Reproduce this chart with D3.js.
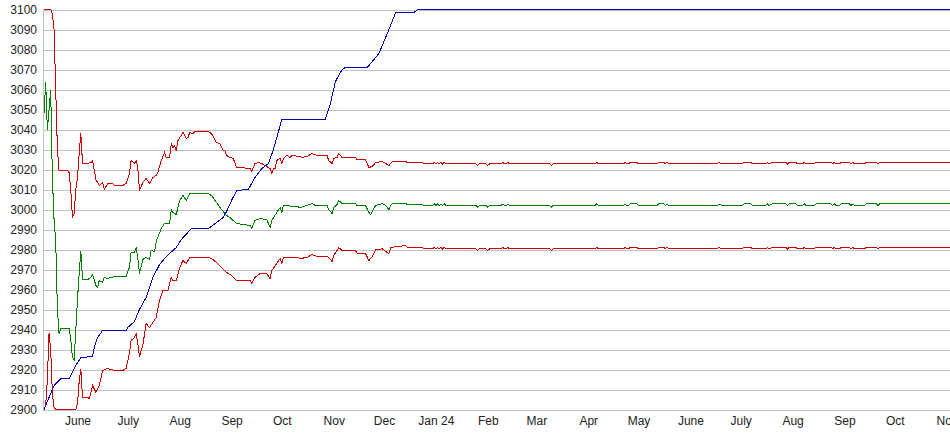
<!DOCTYPE html>
<html>
<head>
<meta charset="utf-8">
<script src="https://cdn.jsdelivr.net/npm/d3@7"></script>
<style>
  body { margin: 0; background: #fff; }
  text { font-family: "Liberation Sans", Arial, sans-serif; font-size: 12px; fill: #222; }
</style>
</head>
<body>
<div id="chart"></div>
<script>
// rating chart data (date, value)
var blueLine = [["2023-05-12",2900],["2023-05-15",2906],["2023-05-18",2912],["2023-05-21",2914.5],["2023-05-22",2915.5],["2023-05-27",2915.5],["2023-05-29",2918.5],["2023-05-31",2922],["2023-06-03",2926],["2023-06-10",2926.5],["2023-06-11",2931],["2023-06-13",2936],["2023-06-16",2939.5],["2023-06-30",2939.5],["2023-07-01",2941],["2023-07-05",2944],["2023-07-08",2950],["2023-07-12",2956],["2023-07-14",2961],["2023-07-16",2966],["2023-07-20",2972.5],["2023-07-23",2975.5],["2023-07-26",2978],["2023-07-30",2981],["2023-08-02",2985],["2023-08-07",2989.5],["2023-08-08",2990.5],["2023-08-18",2990.5],["2023-08-19",2991],["2023-08-23",2993.5],["2023-08-27",2996],["2023-08-29",2999],["2023-09-01",3004.5],["2023-09-04",3009.5],["2023-09-11",3010],["2023-09-15",3016],["2023-09-19",3020.5],["2023-09-23",3023],["2023-09-26",3030],["2023-10-01",3045],["2023-10-27",3045],["2023-10-30",3053],["2023-11-02",3064],["2023-11-06",3070],["2023-11-08",3071],["2023-11-21",3071],["2023-11-25",3075],["2023-11-28",3078],["2023-12-03",3088],["2023-12-08",3098.5],["2023-12-19",3098.5],["2023-12-21",3100],["2024-11-03",3100]];

var upperBand = [["2023-05-12",3100],["2023-05-16",3100],["2023-05-17",3098],["2023-05-18",3090],["2023-05-19",3060],["2023-05-20",3030],["2023-05-21",3019.5],["2023-05-26",3019.5],["2023-05-27",3018.5],["2023-05-28",3009.5],["2023-05-29",2996],["2023-05-30",2998],["2023-05-31",3010],["2023-06-01",3016],["2023-06-02",3028],["2023-06-03",3038],["2023-06-04",3023],["2023-06-07",3023],["2023-06-09",3023.5],["2023-06-10",3024.5],["2023-06-12",3015],["2023-06-13",3013.5],["2023-06-14",3012],["2023-06-16",3013.5],["2023-06-17",3010],["2023-06-19",3013],["2023-06-22",3013],["2023-06-23",3012],["2023-06-28",3012],["2023-06-30",3013],["2023-07-02",3018],["2023-07-03",3024.5],["2023-07-05",3023],["2023-07-06",3024.5],["2023-07-07",3021],["2023-07-08",3009.5],["2023-07-10",3013.5],["2023-07-12",3015.5],["2023-07-14",3013],["2023-07-16",3016],["2023-07-18",3017],["2023-07-19",3018.5],["2023-07-21",3024.5],["2023-07-23",3028.5],["2023-07-24",3026],["2023-07-26",3026],["2023-07-27",3033],["2023-07-28",3031],["2023-07-29",3032],["2023-07-30",3029.5],["2023-07-31",3034.5],["2023-08-03",3038.5],["2023-08-05",3035.5],["2023-08-06",3036],["2023-08-07",3038.5],["2023-08-09",3038],["2023-08-10",3039],["2023-08-18",3039],["2023-08-20",3038],["2023-08-23",3033.5],["2023-08-25",3033],["2023-08-27",3029.5],["2023-08-28",3029.5],["2023-08-29",3027],["2023-08-31",3026],["2023-09-02",3025.5],["2023-09-04",3021],["2023-09-06",3021],["2023-09-12",3020.5],["2023-09-13",3019],["2023-09-15",3023],["2023-09-17",3023.5],["2023-09-19",3023],["2023-09-21",3022],["2023-09-24",3020.5],["2023-09-25",3018],["2023-09-26",3020.5],["2023-09-27",3020.5],["2023-09-28",3024.5],["2023-09-30",3025.5],["2023-10-01",3023],["2023-10-02",3025.5],["2023-10-04",3027],["2023-10-06",3026],["2023-10-07",3027],["2023-10-12",3026.5],["2023-10-13",3026],["2023-10-16",3026.5],["2023-10-19",3028],["2023-10-22",3027],["2023-10-28",3027],["2023-10-29",3024.5],["2023-10-31",3023],["2023-11-01",3025.5],["2023-11-03",3026],["2023-11-04",3028],["2023-11-06",3026],["2023-11-14",3026],["2023-11-15",3025],["2023-11-20",3025],["2023-11-22",3021],["2023-11-24",3021.5],["2023-11-26",3023.5],["2023-11-30",3024],["2023-12-02",3023],["2023-12-04",3022],["2023-12-06",3024],["2023-12-14",3024],["2023-12-15",3023.5],["2023-12-24",3023.5],["2023-12-25",3022.8],["2023-12-30",3022.8],["2023-12-31",3023.6],["2024-01-01",3022.8],["2024-01-02",3023.6],["2024-01-03",3022.8],["2024-01-04",3023.6],["2024-01-05",3022.8],["2024-01-06",3023.6],["2024-01-07",3022.8],
  ["2024-01-25",3022.8],["2024-01-26",3022],["2024-01-27",3022.8],["2024-01-31",3022.8],["2024-02-01",3022],["2024-02-02",3022.8],["2024-02-09",3022.8],["2024-02-10",3023.6],["2024-02-11",3022.8],["2024-02-12",3022.8],["2024-02-13",3023.6],["2024-02-14",3022.8],["2024-03-09",3022.8],["2024-03-10",3022],["2024-03-11",3022.8],["2024-04-05",3022.8],["2024-04-06",3023.6],["2024-04-07",3022.8],["2024-04-22",3022.8],["2024-04-23",3023.6],["2024-04-24",3022.8],["2024-04-25",3022.8],["2024-04-26",3023.6],["2024-04-30",3023.6],["2024-05-01",3022.8],["2024-05-12",3022.8],["2024-05-13",3023.6],["2024-05-16",3023.6],["2024-05-17",3022.8],["2024-05-18",3023.6],["2024-05-19",3022.8],["2024-06-17",3022.8],["2024-06-18",3023.6],["2024-06-20",3022.8],["2024-07-02",3022.8],["2024-07-03",3023.6],["2024-07-07",3023.6],["2024-07-08",3022.8],["2024-07-16",3022.8],["2024-07-17",3023.6],["2024-07-18",3022.8],["2024-07-20",3023.6],["2024-07-28",3023.6],["2024-07-29",3022.8],["2024-07-30",3023.6],["2024-08-03",3023.6],["2024-08-04",3022.8],["2024-08-07",3022.8],["2024-08-08",3023.6],["2024-08-09",3022.8],["2024-08-14",3022.8],["2024-08-15",3023.6],["2024-08-24",3023.6],["2024-08-25",3022.8],["2024-08-26",3023.6],["2024-08-27",3022.8],["2024-08-29",3022.8],["2024-08-30",3023.6],["2024-09-04",3023.6],["2024-09-05",3022.8],["2024-09-06",3023.6],["2024-09-07",3022.8],["2024-09-13",3022.8],["2024-09-14",3023.6],["2024-09-20",3023.6],["2024-09-21",3022.8],["2024-09-22",3023.6],["2024-11-03",3023.6]];

var middleLine = [["2023-05-12",3048],["2023-05-13",3063.5],["2023-05-14",3040],["2023-05-15",3050],["2023-05-16",3059.5],["2023-05-17",3016],["2023-05-18",2995],["2023-05-19",2984],["2023-05-20",2950],["2023-05-21",2938],["2023-05-22",2940.5],["2023-05-27",2940.5],["2023-05-28",2935],["2023-05-29",2926],["2023-05-30",2925],["2023-05-31",2940],["2023-06-01",2955],["2023-06-02",2968],["2023-06-03",2979],["2023-06-04",2965],["2023-06-07",2965],["2023-06-09",2966],["2023-06-10",2967.5],["2023-06-12",2962],["2023-06-13",2961],["2023-06-14",2964.5],["2023-06-16",2963.5],["2023-06-17",2966],["2023-06-19",2965.5],["2023-06-23",2966.5],["2023-06-30",2966.5],["2023-07-02",2971],["2023-07-03",2978.5],["2023-07-05",2978.5],["2023-07-06",2981],["2023-07-07",2976],["2023-07-08",2968],["2023-07-10",2975],["2023-07-12",2976],["2023-07-14",2975],["2023-07-15",2979.5],["2023-07-17",2979],["2023-07-18",2984],["2023-07-21",2990.5],["2023-07-23",2993],["2023-07-26",2993],["2023-07-27",3000],["2023-07-28",2998.5],["2023-07-30",2997.5],["2023-08-01",3004.5],["2023-08-03",3007],["2023-08-05",3004.5],["2023-08-07",3008],["2023-08-18",3008],["2023-08-20",3007],["2023-08-23",3003.5],["2023-08-26",3000],["2023-08-29",2997],["2023-08-31",2996],["2023-09-04",2993],["2023-09-12",2992],["2023-09-13",2990.5],["2023-09-15",2994.5],["2023-09-18",2995.5],["2023-09-22",2995],["2023-09-24",2991],["2023-09-25",2994.5],["2023-09-28",2998.5],["2023-09-30",3001],["2023-10-01",2998.5],["2023-10-02",3002],["2023-10-10",3001.5],["2023-10-12",3001],["2023-10-14",3001.5],["2023-10-16",3002],["2023-10-19",3003],["2023-10-21",3002],["2023-10-28",3002],["2023-10-29",3000],["2023-10-31",2998],["2023-11-01",3001],["2023-11-03",3002.5],["2023-11-04",3004.5],["2023-11-06",3003],["2023-11-14",3003],["2023-11-15",3002],["2023-11-20",3002],["2023-11-22",2998.5],["2023-11-23",2997.5],["2023-11-24",2999],["2023-11-26",3002],["2023-11-30",3003],["2023-12-02",3002],["2023-12-04",3000],["2023-12-05",3002],["2023-12-06",3003],["2023-12-14",3003],["2023-12-15",3002.5],["2023-12-24",3002.5],["2023-12-25",3002],["2023-12-30",3002],["2023-12-31",3002.8],["2024-01-01",3002],["2024-01-02",3002.8],["2024-01-03",3002],["2024-01-04",3002.8],["2024-01-05",3002],["2024-01-06",3002.8],["2024-01-07",3002],
  ["2024-01-25",3002],["2024-01-26",3001.2],["2024-01-27",3002],["2024-01-31",3002],["2024-02-01",3001.2],["2024-02-02",3002],["2024-02-09",3002],["2024-02-10",3002.8],["2024-02-11",3002],["2024-02-12",3002],["2024-02-13",3002.8],["2024-02-14",3002],["2024-03-09",3002],["2024-03-10",3001.2],["2024-03-11",3002],["2024-04-05",3002],["2024-04-06",3002.8],["2024-04-07",3002],["2024-04-22",3002],["2024-04-23",3002.8],["2024-04-24",3002],["2024-04-25",3002],["2024-04-26",3002.8],["2024-04-30",3002.8],["2024-05-01",3002],["2024-05-12",3002],["2024-05-13",3002.8],["2024-05-16",3002.8],["2024-05-17",3002],["2024-05-18",3002.8],["2024-05-19",3002],["2024-06-17",3002],["2024-06-18",3002.8],["2024-06-20",3002],["2024-07-02",3002],["2024-07-03",3002.8],["2024-07-07",3002.8],["2024-07-08",3002],["2024-07-16",3002],["2024-07-17",3002.8],["2024-07-18",3002],["2024-07-20",3002.8],["2024-07-28",3002.8],["2024-07-29",3002],["2024-07-30",3002.8],["2024-08-03",3002.8],["2024-08-04",3002],["2024-08-07",3002],["2024-08-08",3002.8],["2024-08-09",3002],["2024-08-14",3002],["2024-08-15",3002.8],["2024-08-24",3002.8],["2024-08-25",3002],["2024-08-26",3002.8],["2024-08-27",3002],["2024-08-29",3002],["2024-08-30",3002.8],["2024-09-04",3002.8],["2024-09-05",3002],["2024-09-06",3002.8],["2024-09-07",3002],["2024-09-13",3002],["2024-09-14",3002.8],["2024-09-20",3002.8],["2024-09-21",3002],["2024-09-22",3002.8],["2024-11-03",3002.8]];

var lowerBand = [["2023-05-12",2900],["2023-05-13",2902],["2023-05-14",2915],["2023-05-15",2938],["2023-05-16",2930],["2023-05-17",2908],["2023-05-18",2901],["2023-05-19",2900],["2023-05-31",2900],["2023-06-01",2903],["2023-06-02",2914],["2023-06-03",2920],["2023-06-04",2906],["2023-06-07",2906],["2023-06-08",2905.5],["2023-06-09",2908.5],["2023-06-10",2912],["2023-06-12",2908.5],["2023-06-14",2912],["2023-06-16",2919.5],["2023-06-19",2920.5],["2023-06-23",2919.5],["2023-06-28",2919.5],["2023-06-30",2920.5],["2023-07-02",2928],["2023-07-03",2934.5],["2023-07-05",2936],["2023-07-06",2938],["2023-07-07",2933],["2023-07-08",2926.5],["2023-07-10",2932],["2023-07-12",2943],["2023-07-14",2941],["2023-07-16",2943.5],["2023-07-18",2946],["2023-07-20",2954.5],["2023-07-22",2959.5],["2023-07-25",2959.5],["2023-07-27",2966],["2023-07-28",2964.5],["2023-07-30",2964.5],["2023-08-01",2971],["2023-08-03",2974.5],["2023-08-05",2973],["2023-08-07",2976],["2023-08-18",2976],["2023-08-20",2975.5],["2023-08-23",2973.5],["2023-08-26",2971],["2023-08-29",2968.5],["2023-09-01",2967],["2023-09-04",2964.5],["2023-09-12",2964.5],["2023-09-13",2963],["2023-09-15",2966],["2023-09-18",2968],["2023-09-22",2968],["2023-09-24",2965.5],["2023-09-25",2969.5],["2023-09-28",2973],["2023-09-30",2975.5],["2023-10-01",2973],["2023-10-02",2976],["2023-10-10",2976],["2023-10-12",2975.5],["2023-10-16",2976],["2023-10-19",2977.5],["2023-10-22",2976.5],["2023-10-28",2976.5],["2023-10-29",2976],["2023-10-31",2974],["2023-11-01",2977],["2023-11-03",2979.5],["2023-11-04",2981],["2023-11-06",2979.5],["2023-11-14",2979.5],["2023-11-15",2978],["2023-11-20",2978],["2023-11-22",2974.5],["2023-11-24",2976.5],["2023-11-26",2980],["2023-11-30",2980.3],["2023-12-02",2979],["2023-12-04",2978],["2023-12-05",2981],["2023-12-14",2982],["2023-12-15",2981],["2023-12-24",2981],["2023-12-25",2980.3],["2023-12-30",2980.3],["2023-12-31",2981.1],["2024-01-01",2980.3],["2024-01-02",2981.1],["2024-01-03",2980.3],["2024-01-04",2981.1],["2024-01-05",2980.3],["2024-01-06",2981.1],["2024-01-07",2980.3],
  ["2024-01-25",2980.3],["2024-01-26",2979.5],["2024-01-27",2980.3],["2024-01-31",2980.3],["2024-02-01",2979.5],["2024-02-02",2980.3],["2024-02-09",2980.3],["2024-02-10",2981.1],["2024-02-11",2980.3],["2024-02-12",2980.3],["2024-02-13",2981.1],["2024-02-14",2980.3],["2024-03-09",2980.3],["2024-03-10",2979.5],["2024-03-11",2980.3],["2024-04-05",2980.3],["2024-04-06",2981.1],["2024-04-07",2980.3],["2024-04-22",2980.3],["2024-04-23",2981.1],["2024-04-24",2980.3],["2024-04-25",2980.3],["2024-04-26",2981.1],["2024-04-30",2981.1],["2024-05-01",2980.3],["2024-05-12",2980.3],["2024-05-13",2981.1],["2024-05-16",2981.1],["2024-05-17",2980.3],["2024-05-18",2981.1],["2024-05-19",2980.3],["2024-06-17",2980.3],["2024-06-18",2981.1],["2024-06-20",2980.3],["2024-07-02",2980.3],["2024-07-03",2981.1],["2024-07-07",2981.1],["2024-07-08",2980.3],["2024-07-16",2980.3],["2024-07-17",2981.1],["2024-07-18",2980.3],["2024-07-20",2981.1],["2024-07-28",2981.1],["2024-07-29",2980.3],["2024-07-30",2981.1],["2024-08-03",2981.1],["2024-08-04",2980.3],["2024-08-07",2980.3],["2024-08-08",2981.1],["2024-08-09",2980.3],["2024-08-14",2980.3],["2024-08-15",2981.1],["2024-08-24",2981.1],["2024-08-25",2980.3],["2024-08-26",2981.1],["2024-08-27",2980.3],["2024-08-29",2980.3],["2024-08-30",2981.1],["2024-09-04",2981.1],["2024-09-05",2980.3],["2024-09-06",2981.1],["2024-09-07",2980.3],["2024-09-13",2980.3],["2024-09-14",2981.1],["2024-09-20",2981.1],["2024-09-21",2980.3],["2024-09-22",2981.1],["2024-11-03",2981.1]];

var yTicks = [2900,2910,2920,2930,2940,2950,2960,2970,2980,2990,3000,3010,3020,3030,3040,3050,3060,3070,3080,3090,3100];
var xTickDates = ["2023-06-01","2023-07-01","2023-08-01","2023-09-01","2023-10-01","2023-11-01","2023-12-01","2024-01-01","2024-02-01","2024-03-01","2024-04-01","2024-05-01","2024-06-01","2024-07-01","2024-08-01","2024-09-01","2024-10-01","2024-11-01"];
var xTickLabels = ["June","July","Aug","Sep","Oct","Nov","Dec","Jan 24","Feb","Mar","Apr","May","June","July","Aug","Sep","Oct","Nov"];

var parseDate = d3.timeParse("%Y-%m-%d");

// set the dimensions and margins of the graph
var W = 950, H = 435;
var margin = {top: 9.5, left: 44, bottom: 409.5};

var svg = d3.select("#chart")
    .append("svg")
    .attr("width", W)
    .attr("height", H);

var x = d3.scaleTime()
    .domain([parseDate("2023-05-12"), parseDate("2024-11-03")])
    .range([margin.left, W]);

var y = d3.scaleLinear()
    .domain([2900, 3100])
    .range([margin.bottom, margin.top]);

// grid lines
svg.append("g")
    .selectAll("line")
    .data(yTicks)
    .enter().append("line")
    .attr("x1", margin.left)
    .attr("x2", W)
    .attr("y1", function(d) { return Math.round(y(d) + 0.5) + 0.5; })
    .attr("y2", function(d) { return Math.round(y(d) + 0.5) + 0.5; })
    .attr("stroke", "#c0c0c0")
    .attr("stroke-width", 1)
    .attr("shape-rendering", "crispEdges");

// left axis line
svg.append("line")
    .attr("x1", margin.left - 0.5).attr("x2", margin.left - 0.5)
    .attr("y1", 10).attr("y2", 411)
    .attr("stroke", "#c0c0c0")
    .attr("shape-rendering", "crispEdges");

// Y axis labels
var yAxis = svg.append("g")
    .attr("transform", "translate(" + margin.left + ",0.5)")
    .call(d3.axisLeft(y).tickValues(yTicks).tickSize(0).tickPadding(7).tickFormat(d3.format("d")));
yAxis.select(".domain").remove();

// X axis labels
var xAxis = svg.append("g")
    .attr("transform", "translate(0,410)")
    .call(d3.axisBottom(x)
        .tickValues(xTickDates.map(parseDate))
        .tickSize(0)
        .tickPadding(6)
        .tickFormat(function(d, i) { return xTickLabels[i]; }));
xAxis.select(".domain").remove();
svg.selectAll(".tick text").attr("font-family", "'Liberation Sans', Arial, sans-serif").attr("font-size", 12).attr("fill", "#222");

var line = d3.line()
    .x(function(d) { return x(parseDate(d[0])); })
    .y(function(d) { return y(d[1]); });

var series = [
    {data: lowerBand, color: "#cc0000"},
    {data: upperBand, color: "#cc0000"},
    {data: middleLine, color: "#008000"},
    {data: blueLine, color: "#0000b8"}
];

series.forEach(function(s) {
    svg.append("path")
        .datum(s.data)
        .attr("fill", "none")
        .attr("stroke", s.color)
        .attr("stroke-width", 1)
        .attr("shape-rendering", "crispEdges")
        .attr("d", line);
});
</script>
</body>
</html>
